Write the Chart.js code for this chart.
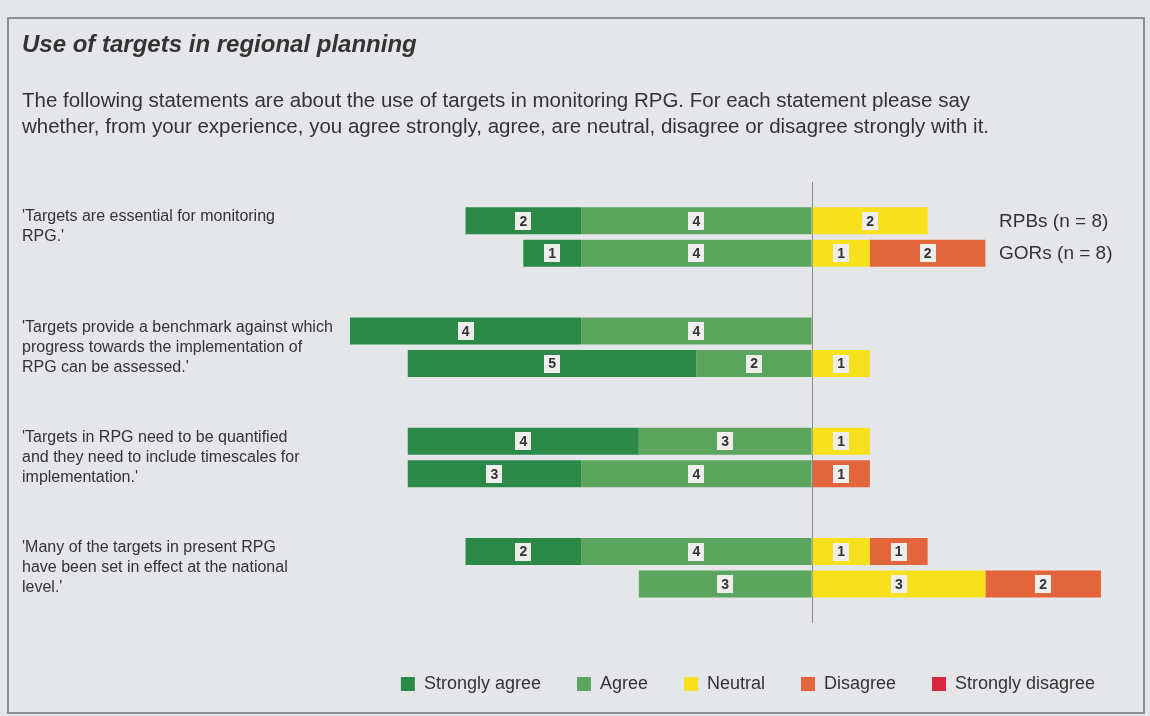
<!DOCTYPE html>
<html><head><meta charset="utf-8">
<script src="https://cdn.jsdelivr.net/npm/chart.js@4.4.1/dist/chart.umd.min.js"></script>
<style>
html,body{margin:0;padding:0;background:#e4e6ea;width:1150px;height:716px;overflow:hidden;}
#frame{position:absolute;left:7px;top:17px;width:1134px;height:693px;border:2px solid #8e8f92;}
#wrap{position:absolute;left:0;top:0;width:1150px;height:716px;}
</style></head><body>
<div id="frame"></div>
<div id="wrap"><canvas id="c"></canvas></div>
<script>
const statements = [
  ["'Targets are essential for monitoring", "RPG.'", ""],
  ["'Targets provide a benchmark against which", "progress towards the implementation of", "RPG can be assessed.'"],
  ["'Targets in RPG need to be quantified", "and they need to include timescales for", "implementation.'"],
  ["'Many of the targets in present RPG", "have been set in effect at the national", "level.'"]
];
const groups = ["RPBs (n = 8)", "GORs (n = 8)"];
const responses = ["Strongly agree", "Agree", "Neutral", "Disagree", "Strongly disagree"];
const colors = ["#2b8a48", "#5ba55f", "#f6e11c", "#e3653b", "#d7263f"];

const rpbStronglyAgree    = [2, 4, 4, 2];
const rpbAgree            = [4, 4, 3, 4];
const rpbNeutral          = [2, 0, 1, 1];
const rpbDisagree         = [0, 0, 0, 1];
const rpbStronglyDisagree = [0, 0, 0, 0];

const gorStronglyAgree    = [1, 5, 3, 0];
const gorAgree            = [4, 2, 4, 3];
const gorNeutral          = [1, 1, 0, 3];
const gorDisagree         = [2, 0, 1, 2];
const gorStronglyDisagree = [0, 0, 0, 0];

const TEXT = "#333333";
const FONT = "'Liberation Sans', Arial, sans-serif";

function groupDatasets(stack, sa, a, n, d, sd) {
  // agree side is negative; order: nearest-to-zero first
  const spec = [[1, a, -1], [0, sa, -1], [2, n, 1], [3, d, 1], [4, sd, 1]];
  return spec.map(([r, arr, sign]) => ({
    label: responses[r],
    rank: r,
    stack: stack,
    data: arr.map(v => v * sign),
    backgroundColor: colors[r],
    borderWidth: 0,
    categoryPercentage: 0.59,
    barPercentage: 0.83
  }));
}

const datasets = [
  ...groupDatasets("RPB", rpbStronglyAgree, rpbAgree, rpbNeutral, rpbDisagree, rpbStronglyDisagree),
  ...groupDatasets("GOR", gorStronglyAgree, gorAgree, gorNeutral, gorDisagree, gorStronglyDisagree)
];

const valueLabels = {
  id: "valueLabels",
  afterDatasetsDraw(chart) {
    const ctx = chart.ctx;
    ctx.save();
    ctx.font = "bold 14px " + FONT;
    ctx.textAlign = "center";
    ctx.textBaseline = "middle";
    chart.data.datasets.forEach((ds, di) => {
      const meta = chart.getDatasetMeta(di);
      meta.data.forEach((bar, i) => {
        const v = Math.abs(ds.data[i]);
        if (!v) return;
        const cx = (bar.x + bar.base) / 2, cy = bar.y;
        ctx.fillStyle = "#eeeeec";
        ctx.fillRect(Math.round(cx - 8), Math.round(cy - 9), 16, 18);
        ctx.fillStyle = "#333";
        ctx.fillText(String(v), cx, cy + 1);
      });
    });
    ctx.restore();
  }
};

const groupLabels = {
  id: "groupLabels",
  afterDatasetsDraw(chart) {
    const ctx = chart.ctx;
    ctx.save();
    ctx.font = "19px " + FONT;
    ctx.fillStyle = TEXT;
    ctx.textAlign = "left";
    ctx.textBaseline = "middle";
    const idx = [0, 5];
    idx.forEach((di, g) => {
      const bar = chart.getDatasetMeta(di).data[0];
      ctx.fillText(groups[g], 999, bar.y + 1);
    });
    ctx.restore();
  }
};

new Chart(document.getElementById("c"), {
  type: "bar",
  data: { labels: statements, datasets },
  options: {
    indexAxis: "y",
    responsive: true,
    maintainAspectRatio: false,
    animation: false,
    layout: { padding: { left: 22, right: 4, top: 18, bottom: 13 } },
    scales: {
      x: {
        type: "linear",
        stacked: true,
        min: -8,
        max: 5.78,
        ticks: { display: false, stepSize: 1 },
        border: { display: false },
        grid: {
          drawTicks: false,
          color: c => (c.tick && c.tick.value === 0) ? "#8a8a8a" : "rgba(0,0,0,0)",
          lineWidth: 1
        },
        afterFit: s => { s.height = 16; }
      },
      y: {
        stacked: true,
        grid: { display: false },
        border: { display: false },
        ticks: {
          crossAlign: "far",
          color: TEXT,
          font: { family: FONT, size: 16, lineHeight: 1.25 }
        },
        afterFit: s => { s.width = 328; }
      }
    },
    plugins: {
      title: {
        display: true,
        text: "Use of targets in regional planning",
        align: "start",
        color: TEXT,
        font: { family: FONT, size: 24, weight: "bold", style: "italic", lineHeight: 1.2 },
        padding: { top: 13, bottom: 0 }
      },
      subtitle: {
        display: true,
        text: [
          "The following statements are about the use of targets in monitoring RPG. For each statement please say",
          "whether, from your experience, you agree strongly, agree, are neutral, disagree or disagree strongly with it."
        ],
        align: "start",
        color: TEXT,
        font: { family: FONT, size: 20.5, lineHeight: "26px" },
        padding: { top: 29, bottom: 41 }
      },
      legend: {
        position: "bottom",
        fullSize: false,
        labels: {
          color: TEXT,
          font: { family: FONT, size: 18 },
          boxWidth: 14,
          boxHeight: 14,
          padding: 36,
          filter: (item, data) => data.datasets[item.datasetIndex].stack === "RPB",
          sort: (a, b, data) => data.datasets[a.datasetIndex].rank - data.datasets[b.datasetIndex].rank
        }
      },
      tooltip: { enabled: false }
    }
  },
  plugins: [valueLabels, groupLabels]
});
</script>
</body></html>
